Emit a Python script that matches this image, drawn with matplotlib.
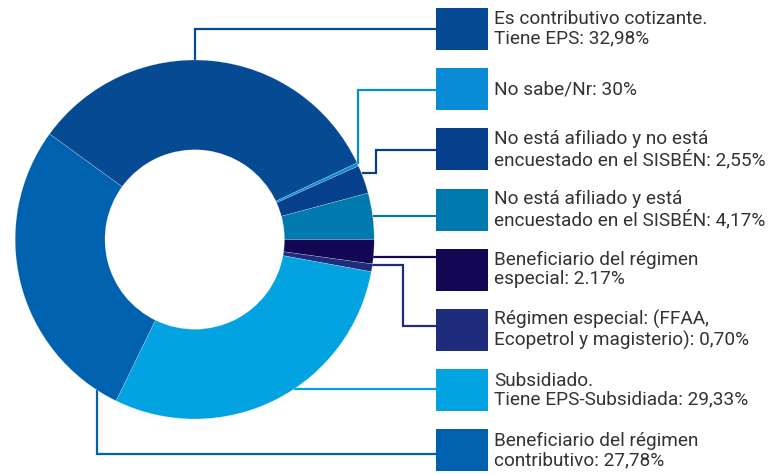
import matplotlib
matplotlib.use("Agg")
import matplotlib.pyplot as plt
from matplotlib.patches import Rectangle
import numpy as np

# ---- data ----
labels = [
    "Es contributivo cotizante.\nTiene EPS: 32,98%",
    "No sabe/Nr: 30%",
    "No está afiliado y no está\nencuestado en el SISBÉN: 2,55%",
    "No está afiliado y está\nencuestado en el SISBÉN: 4,17%",
    "Beneficiario del régimen\nespecial: 2.17%",
    "Régimen especial: (FFAA,\nEcopetrol y magisterio): 0,70%",
    "Subsidiado.\nTiene EPS-Subsidiada: 29,33%",
    "Beneficiario del régimen\ncontributivo: 27,78%",
]
values = [32.98, 0.30, 2.55, 4.17, 2.17, 0.70, 29.33, 27.78]
colors = ["#064a94", "#0a8bd5", "#063f8b", "#0079ae",
          "#130653", "#1f2c7c", "#03a2e1", "#0062ae"]

# ---- layout (pixels, top-down) ----
W, H = 771, 474
cx, cy, R = 194.7, 239.5, 179.5
hole = 0.5
start = 144
anchor_frac = [0.455, 0.5, 0.28, 0.5, 0.70, 0.14, 0.437, 0.069]
routes = [("v", 28.5), ("v", 89.5), ("hv", 375.5, 150), ("h",), ("h",),
          ("hv", 403.3, 325.7), ("h",), ("v", 454)]
box_x, box_w, box_h = 436, 52, 42
box_c0, box_step = 29, 60.2
text_x = 494


def Y(y):
    return H - y


fig = plt.figure(figsize=(W / 100, H / 100), dpi=100)
ax = fig.add_axes([0, 0, 1, 1])
ax.pie(values, colors=colors, startangle=start, counterclock=False,
       radius=R, center=(cx, Y(cy)),
       wedgeprops=dict(width=R * (1 - hole), edgecolor=(1, 1, 1, 0.45),
                       linewidth=0.3))
ax.set_xlim(0, W)
ax.set_ylim(0, H)
ax.set_aspect("equal")
ax.set_axis_off()

total = sum(values)
cum = 0.0
for i, (v, col, lab) in enumerate(zip(values, colors, labels)):
    a0 = start - cum / total * 360
    span = v / total * 360
    cum += v
    ang = np.deg2rad(a0 - anchor_frac[i] * span)
    px = cx + R * np.cos(ang)
    py = cy - R * np.sin(ang)
    bc = box_c0 + box_step * i
    r = routes[i]
    if r[0] == "v":
        xs = [px, px, box_x]
        ys = [py, r[1], r[1]]
    elif r[0] == "hv":
        xs = [px, r[1], r[1], box_x]
        ys = [py, py, r[2], r[2]]
    else:
        xs = [px, box_x]
        ys = [py, py]
    ax.plot(xs, [Y(y) for y in ys], color=col, lw=1.6, zorder=0.5,
            solid_joinstyle="miter", solid_capstyle="butt")
    ax.add_patch(Rectangle((box_x, Y(bc + box_h / 2)), box_w, box_h,
                           facecolor=col, edgecolor="none", zorder=3))
    ax.text(text_x, Y(bc), lab, ha="left", va="center", fontsize=13.7,
            family="Roboto", color="#333333", linespacing=1.08, zorder=4)

fig.savefig("out.png", dpi=100)
